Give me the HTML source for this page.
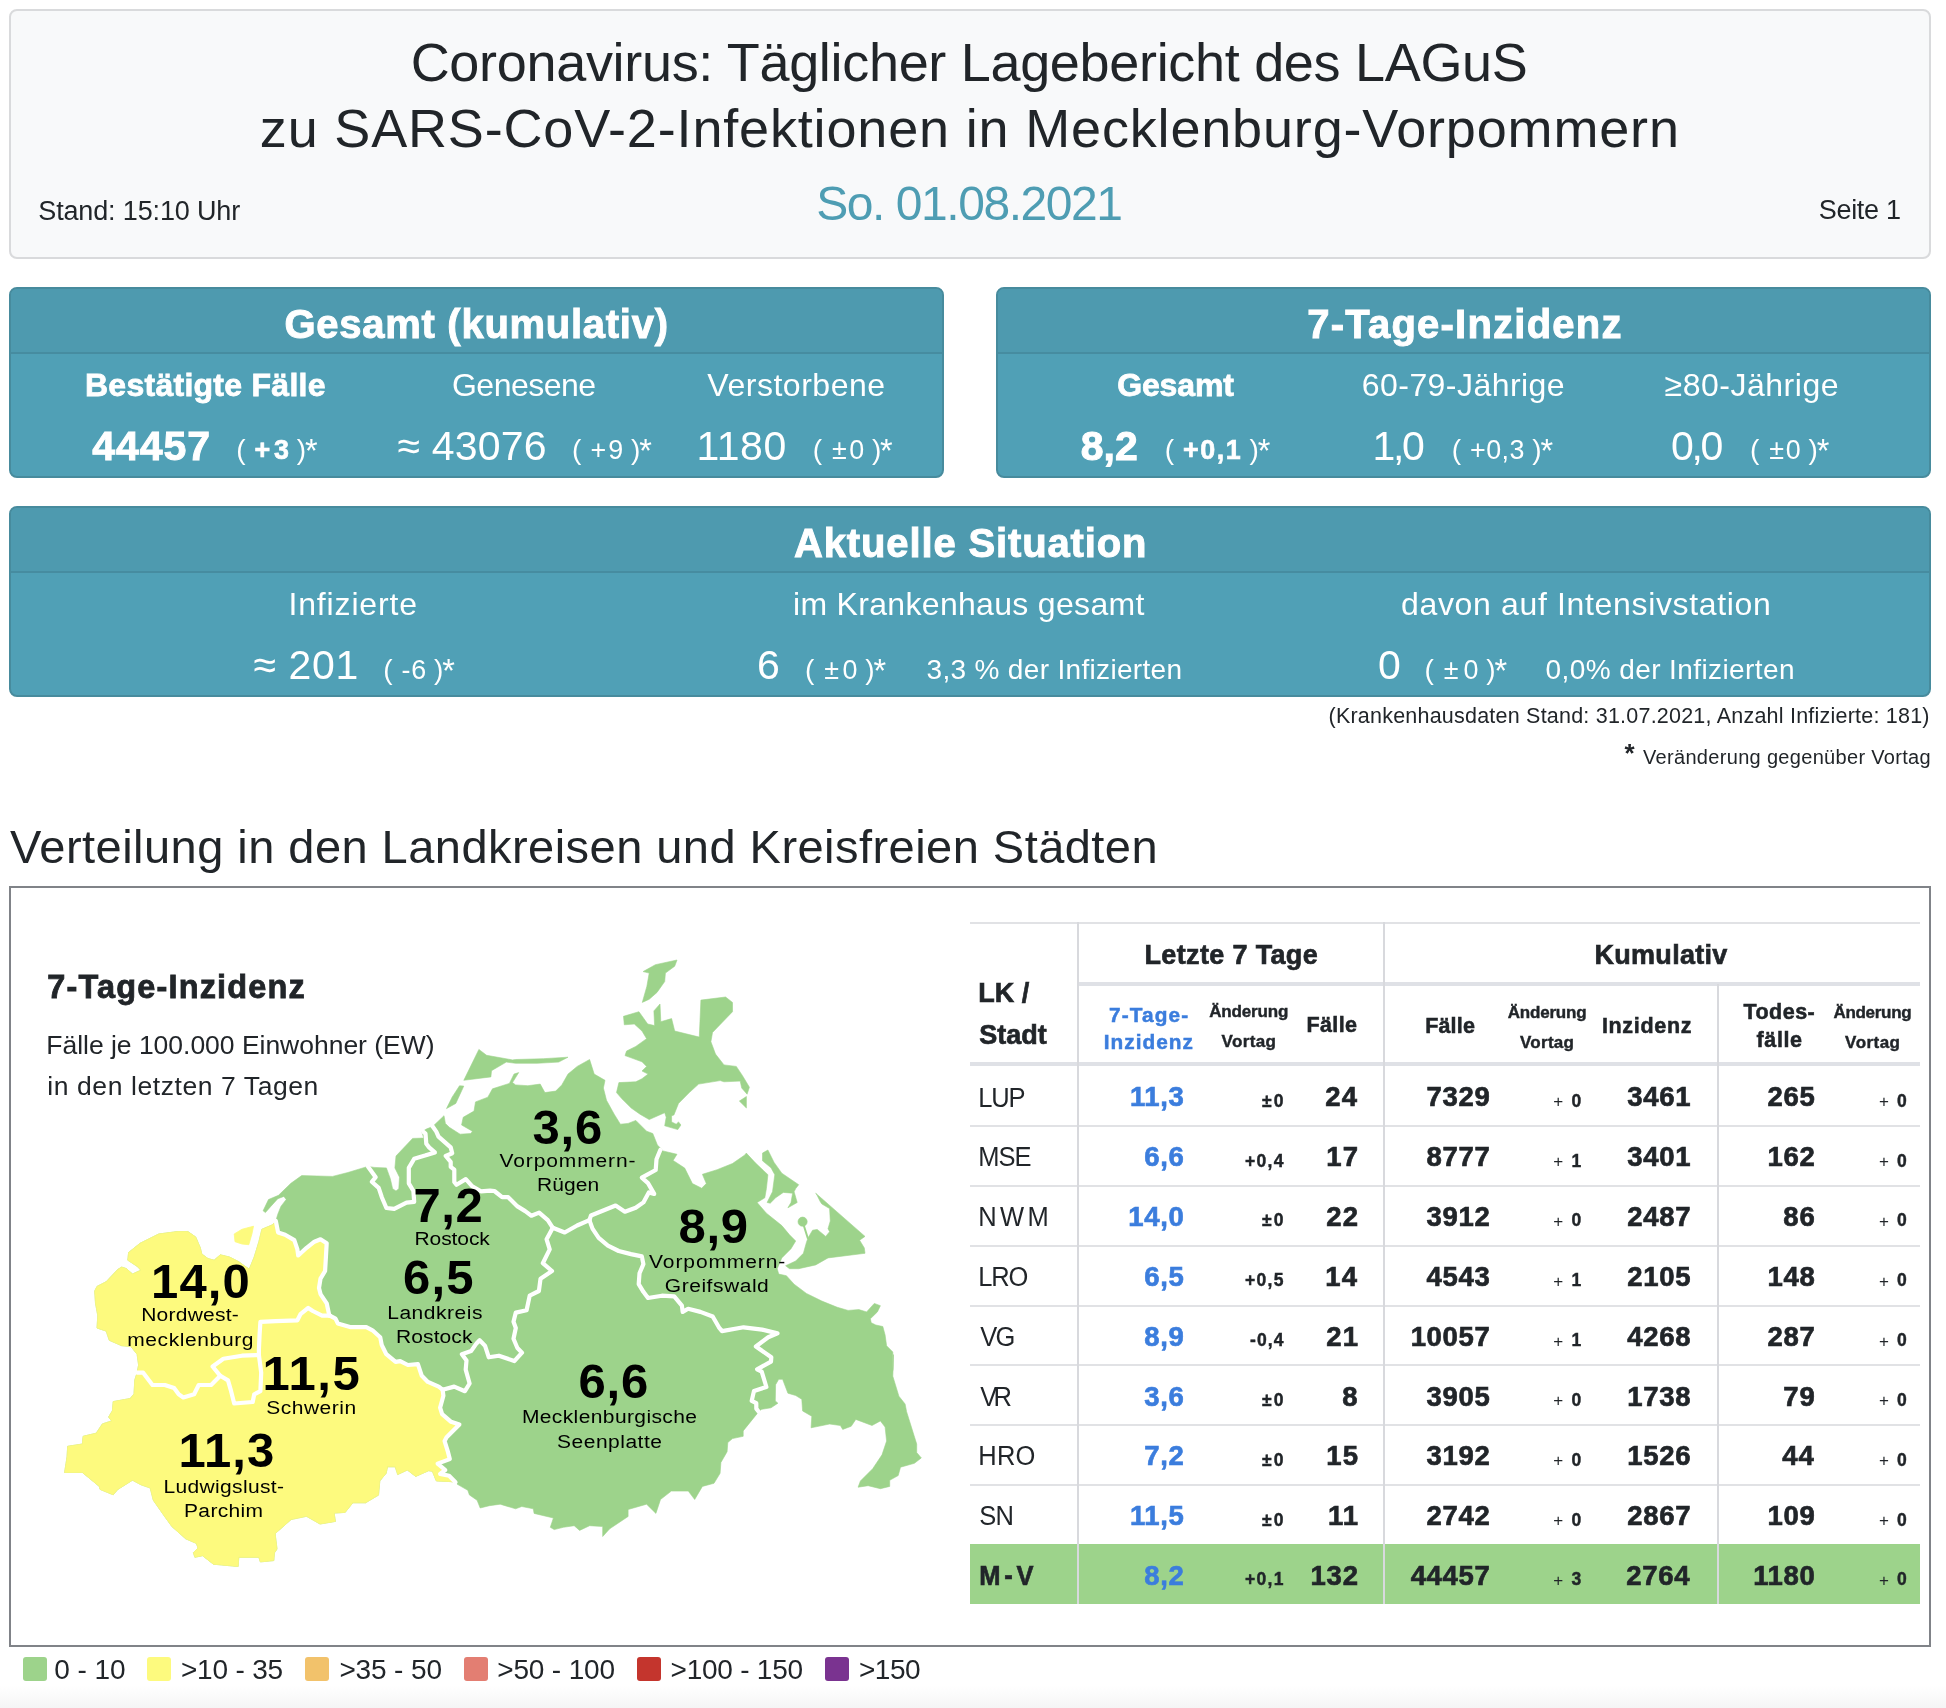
<!DOCTYPE html>
<html lang="de"><head><meta charset="utf-8"><title>Lagebericht</title>
<style>
html,body{margin:0;padding:0;}
body{width:1946px;height:1708px;position:relative;overflow:hidden;background:#fff;font-family:"Liberation Sans",sans-serif;color:#212529;}
.t{position:absolute;white-space:nowrap;line-height:1;}
.b{position:absolute;box-sizing:border-box;}
svg{position:absolute;left:0;top:0;}
#wrap{position:absolute;left:0;top:0;width:1946px;height:1708px;will-change:transform;}
</style></head><body><div id="wrap">
<div class="b" style="left:0px;top:1686px;width:1946px;height:22px;background:linear-gradient(to bottom,#ffffff,#f5f5f5);"></div>
<div class="b" style="left:9px;top:9px;width:1922px;height:250px;background:#f8f9fa;border:2px solid #d9dadc;border-radius:8px;"></div>
<span class="t" style="left:410.70px;top:35.49px;font-size:54px;letter-spacing:-0.314px;">Coronavirus: Täglicher Lagebericht des LAGuS</span>
<span class="t" style="left:259.80px;top:101.49px;font-size:54px;letter-spacing:0.830px;">zu SARS-CoV-2-Infektionen in Mecklenburg-Vorpommern</span>
<span class="t" style="left:816.30px;top:179.67px;font-size:48px;color:#4e9db3;letter-spacing:-1.463px;">So. 01.08.2021</span>
<span class="t" style="left:38.30px;top:197.54px;font-size:27px;letter-spacing:-0.150px;">Stand: 15:10 Uhr</span>
<span class="t" style="left:1818.80px;top:197.34px;font-size:27px;letter-spacing:-0.324px;">Seite 1</span>
<div class="b" style="left:9px;top:287px;width:935px;height:191px;background:#50a0b6;border:2px solid #478b9d;border-radius:8px;"></div>
<div class="b" style="left:11px;top:289px;width:931px;height:65px;background:#4e9aaf;border-bottom:2px solid #468ca0;border-radius:6px 6px 0 0;"></div>
<div class="b" style="left:996px;top:287px;width:935px;height:191px;background:#50a0b6;border:2px solid #478b9d;border-radius:8px;"></div>
<div class="b" style="left:998px;top:289px;width:931px;height:65px;background:#4e9aaf;border-bottom:2px solid #468ca0;border-radius:6px 6px 0 0;"></div>
<div class="b" style="left:9px;top:506px;width:1922px;height:191px;background:#50a0b6;border:2px solid #478b9d;border-radius:8px;"></div>
<div class="b" style="left:11px;top:508px;width:1918px;height:65px;background:#4e9aaf;border-bottom:2px solid #468ca0;border-radius:6px 6px 0 0;"></div>
<span class="t" style="left:284.40px;top:303.84px;font-size:40px;font-weight:700;-webkit-text-stroke:0.96px;color:#ffffff;letter-spacing:0.730px;">Gesamt (kumulativ)</span>
<span class="t" style="left:85.00px;top:369.11px;font-size:32px;font-weight:700;-webkit-text-stroke:0.77px;color:#ffffff;letter-spacing:0.265px;">Bestätigte Fälle</span>
<span class="t" style="left:452.00px;top:369.11px;font-size:32px;color:#ffffff;letter-spacing:-0.525px;">Genesene</span>
<span class="t" style="left:707.30px;top:369.11px;font-size:32px;color:#ffffff;letter-spacing:0.523px;">Verstorbene</span>
<span class="t" style="left:92.20px;top:425.69px;font-size:41px;font-weight:700;-webkit-text-stroke:0.98px;color:#ffffff;letter-spacing:0.973px;">44457</span>
<span class="t" style="left:397.50px;top:425.69px;font-size:41px;color:#ffffff;letter-spacing:0.200px;">≈ 43076</span>
<span class="t" style="left:696.50px;top:425.69px;font-size:41px;color:#ffffff;letter-spacing:0.512px;">1180</span>
<span class="t" style="left:236.30px;top:436.30px;font-size:28px;color:#ffffff;">(</span>
<span class="t" style="left:304.90px;top:435.41px;font-size:32.48px;color:#ffffff;">*</span>
<span class="t" style="left:296.80px;top:436.30px;font-size:28px;color:#ffffff;">)</span>
<span class="t" style="left:254.60px;top:437.25px;font-size:26.88px;font-weight:700;-webkit-text-stroke:0.65px;color:#ffffff;letter-spacing:3.705px;">+3</span>
<span class="t" style="left:572.10px;top:436.30px;font-size:28px;color:#ffffff;">(</span>
<span class="t" style="left:639.20px;top:435.41px;font-size:32.48px;color:#ffffff;">*</span>
<span class="t" style="left:631.10px;top:436.30px;font-size:28px;color:#ffffff;">)</span>
<span class="t" style="left:590.40px;top:437.25px;font-size:26.88px;color:#ffffff;letter-spacing:2.205px;">+9</span>
<span class="t" style="left:812.70px;top:436.30px;font-size:28px;color:#ffffff;">(</span>
<span class="t" style="left:880.10px;top:435.41px;font-size:32.48px;color:#ffffff;">*</span>
<span class="t" style="left:872.00px;top:436.30px;font-size:28px;color:#ffffff;">)</span>
<span class="t" style="left:832.00px;top:437.25px;font-size:26.88px;color:#ffffff;letter-spacing:2.450px;">±0</span>
<span class="t" style="left:1307.30px;top:303.84px;font-size:40px;font-weight:700;-webkit-text-stroke:0.96px;color:#ffffff;letter-spacing:1.218px;">7-Tage-Inzidenz</span>
<span class="t" style="left:1117.20px;top:369.11px;font-size:32px;font-weight:700;-webkit-text-stroke:0.77px;color:#ffffff;letter-spacing:-0.127px;">Gesamt</span>
<span class="t" style="left:1361.80px;top:369.11px;font-size:32px;color:#ffffff;letter-spacing:0.445px;">60-79-Jährige</span>
<span class="t" style="left:1664.60px;top:369.11px;font-size:32px;color:#ffffff;letter-spacing:0.513px;">≥80-Jährige</span>
<span class="t" style="left:1080.70px;top:425.69px;font-size:41px;font-weight:700;-webkit-text-stroke:0.98px;color:#ffffff;letter-spacing:0.053px;">8,2</span>
<span class="t" style="left:1372.60px;top:425.69px;font-size:41px;color:#ffffff;letter-spacing:-2.397px;">1,0</span>
<span class="t" style="left:1671.00px;top:425.69px;font-size:41px;color:#ffffff;letter-spacing:-2.297px;">0,0</span>
<span class="t" style="left:1164.70px;top:436.30px;font-size:28px;color:#ffffff;">(</span>
<span class="t" style="left:1257.70px;top:435.41px;font-size:32.48px;color:#ffffff;">*</span>
<span class="t" style="left:1249.60px;top:436.30px;font-size:28px;color:#ffffff;">)</span>
<span class="t" style="left:1183.00px;top:437.25px;font-size:26.88px;font-weight:700;-webkit-text-stroke:0.65px;color:#ffffff;letter-spacing:1.564px;">+0,1</span>
<span class="t" style="left:1451.70px;top:436.30px;font-size:28px;color:#ffffff;">(</span>
<span class="t" style="left:1540.40px;top:435.41px;font-size:32.48px;color:#ffffff;">*</span>
<span class="t" style="left:1532.30px;top:436.30px;font-size:28px;color:#ffffff;">)</span>
<span class="t" style="left:1470.00px;top:437.25px;font-size:26.88px;color:#ffffff;letter-spacing:0.464px;">+0,3</span>
<span class="t" style="left:1749.90px;top:436.30px;font-size:28px;color:#ffffff;">(</span>
<span class="t" style="left:1816.70px;top:435.41px;font-size:32.48px;color:#ffffff;">*</span>
<span class="t" style="left:1808.60px;top:436.30px;font-size:28px;color:#ffffff;">)</span>
<span class="t" style="left:1769.20px;top:437.25px;font-size:26.88px;color:#ffffff;letter-spacing:1.850px;">±0</span>
<span class="t" style="left:794.00px;top:522.84px;font-size:40px;font-weight:700;-webkit-text-stroke:0.96px;color:#ffffff;letter-spacing:0.860px;">Aktuelle Situation</span>
<span class="t" style="left:288.40px;top:588.21px;font-size:32px;color:#ffffff;letter-spacing:0.862px;">Infizierte</span>
<span class="t" style="left:793.00px;top:588.21px;font-size:32px;color:#ffffff;letter-spacing:0.316px;">im Krankenhaus gesamt</span>
<span class="t" style="left:1401.00px;top:588.21px;font-size:32px;color:#ffffff;letter-spacing:0.658px;">davon auf Intensivstation</span>
<span class="t" style="left:253.40px;top:645.19px;font-size:41px;color:#ffffff;letter-spacing:0.626px;">≈ 201</span>
<span class="t" style="left:383.20px;top:655.90px;font-size:28px;color:#ffffff;">(</span>
<span class="t" style="left:442.20px;top:655.01px;font-size:32.48px;color:#ffffff;">*</span>
<span class="t" style="left:434.10px;top:655.90px;font-size:28px;color:#ffffff;">)</span>
<span class="t" style="left:401.50px;top:656.85px;font-size:26.88px;color:#ffffff;letter-spacing:0.850px;">-6</span>
<span class="t" style="left:757.00px;top:645.19px;font-size:41px;color:#ffffff;">6</span>
<span class="t" style="left:805.00px;top:655.90px;font-size:28px;color:#ffffff;">(</span>
<span class="t" style="left:873.40px;top:655.01px;font-size:32.48px;color:#ffffff;">*</span>
<span class="t" style="left:865.30px;top:655.90px;font-size:28px;color:#ffffff;">)</span>
<span class="t" style="left:824.30px;top:656.85px;font-size:26.88px;color:#ffffff;letter-spacing:3.450px;">±0</span>
<span class="t" style="left:926.50px;top:655.90px;font-size:28px;color:#ffffff;letter-spacing:0.328px;">3,3 % der Infizierten</span>
<span class="t" style="left:1378.00px;top:645.19px;font-size:41px;color:#ffffff;">0</span>
<span class="t" style="left:1424.50px;top:655.90px;font-size:28px;color:#ffffff;">(</span>
<span class="t" style="left:1494.40px;top:655.01px;font-size:32.48px;color:#ffffff;">*</span>
<span class="t" style="left:1486.30px;top:655.90px;font-size:28px;color:#ffffff;">)</span>
<span class="t" style="left:1443.80px;top:656.85px;font-size:26.88px;color:#ffffff;letter-spacing:4.950px;">±0</span>
<span class="t" style="left:1545.50px;top:655.90px;font-size:28px;color:#ffffff;letter-spacing:0.412px;">0,0% der Infizierten</span>
<span class="t" style="left:1328.50px;top:705.80px;font-size:21.5px;letter-spacing:0.219px;">(Krankenhausdaten Stand: 31.07.2021, Anzahl Infizierte: 181)</span>
<span class="t" style="left:1624.60px;top:740.49px;font-size:26px;font-weight:700;">*</span>
<span class="t" style="left:1643.00px;top:746.57px;font-size:20px;letter-spacing:0.315px;">Veränderung gegenüber Vortag</span>
<span class="t" style="left:10.10px;top:823.31px;font-size:47px;letter-spacing:0.461px;">Verteilung in den Landkreisen und Kreisfreien Städten</span>
<div class="b" style="left:9px;top:886px;width:1922px;height:761px;background:#fff;border:2px solid #808388;"></div>
<span class="t" style="left:47.30px;top:971.49px;font-size:32.5px;font-weight:700;-webkit-text-stroke:0.78px;letter-spacing:1.150px;">7-Tage-Inzidenz</span>
<span class="t" style="left:46.30px;top:1031.77px;font-size:26.5px;letter-spacing:-0.021px;">Fälle je 100.000 Einwohner (EW)</span>
<span class="t" style="left:47.30px;top:1073.37px;font-size:26.5px;letter-spacing:0.582px;">in den letzten 7 Tagen</span>
<svg width="1946" height="1708" viewBox="0 0 1946 1708">
<g fill="#9dd38b" stroke="#9dd38b" stroke-width="0.6" stroke-linejoin="round">
<path d="M137.1 1372.7 L138.6 1365.0 L137.1 1354.2 L130.9 1346.5 L121.7 1345.7 L109.3 1340.3 L106.2 1331.1 L97.0 1328.0 L97.8 1315.7 L95.5 1303.3 L94.7 1291.0 L97.0 1286.4 L106.2 1281.7 L117.8 1269.4 L121.7 1267.1 L126.3 1268.6 L132.5 1274.0 L140.9 1270.2 L137.1 1266.3 L127.8 1260.2 L128.6 1252.5 L140.2 1243.2 L158.7 1234.0 L177.2 1231.6 L187.9 1231.6 L195.7 1237.0 L200.3 1247.8 L201.8 1254.0 L208.0 1258.6 L214.2 1260.2 L220.3 1254.8 L229.6 1257.1 L238.8 1261.7 L245.0 1266.3 L249.3 1269.1 L254.2 1257.1 L258.9 1241.7 L261.9 1229.3 L272.7 1224.7 L275.8 1220.9 L277.8 1214.2 L280.9 1206.4 L286.2 1199.5 L283.9 1196.4 L277.8 1198.7 L270.8 1206.4 L265.4 1212.6 L263.1 1210.8 L268.5 1199.5 L278.5 1195.3 L290.9 1183.3 L301.7 1175.6 L332.5 1176.4 L347.9 1172.5 L367.9 1166.4 L374.1 1167.4 L386.4 1167.9 L390.3 1178.7 L392.6 1188.7 L396.0 1191.0 L398.8 1188.7 L399.5 1177.2 L394.9 1167.9 L396.0 1156.0 L412.6 1138.4 L423.7 1138.1 L421.9 1131.9 L426.3 1129.1 L432.7 1126.5 L444.0 1115.7 L445.4 1123.4 L449.3 1127.3 L460.1 1134.2 L470.9 1133.5 L472.4 1131.2 L461.6 1125.0 L463.2 1117.3 L474.0 1111.1 L475.5 1101.9 L487.8 1097.2 L492.5 1088.8 L509.4 1083.4 L514.0 1074.1 L518.7 1072.6 L512.5 1082.6 L515.6 1084.9 L527.9 1085.7 L540.2 1084.1 L544.9 1092.6 L555.7 1091.1 L561.8 1084.9 L568.0 1074.1 L577.2 1066.4 L589.6 1059.5 L594.2 1074.1 L605.0 1080.3 L603.4 1088.0 L606.5 1100.3 L614.2 1114.2 L620.4 1124.2 L628.1 1123.4 L635.8 1120.4 L646.6 1131.2 L652.8 1133.5 L657.4 1145.0 L662.0 1149.7 L660.8 1150.4 L677.0 1154.3 L673.1 1160.4 L684.7 1168.1 L692.4 1183.6 L701.7 1188.2 L706.3 1183.6 L702.4 1174.3 L717.1 1169.7 L732.5 1163.5 L744.8 1155.0 L746.3 1153.1 L755.6 1163.1 L767.9 1174.7 L766.4 1188.6 L764.8 1197.8 L757.1 1202.5 L766.4 1213.2 L781.8 1225.6 L789.5 1234.8 L795.7 1241.0 L791.0 1248.7 L781.8 1257.9 L777.2 1268.7 L778.7 1274.1 L786.4 1275.7 L794.1 1284.2 L806.4 1293.4 L821.9 1301.1 L837.3 1307.3 L848.1 1310.4 L858.9 1309.6 L866.6 1311.9 L874.3 1303.4 L880.4 1305.7 L877.4 1311.9 L870.4 1318.8 L871.2 1322.7 L875.8 1325.0 L882.8 1326.5 L885.1 1335.0 L886.6 1345.8 L892.8 1352.0 L892.8 1370.5 L893.5 1354.6 L892.8 1376.2 L898.9 1396.2 L905.1 1404.0 L906.6 1411.7 L916.7 1444.0 L916.7 1452.5 L921.3 1457.9 L914.4 1463.3 L900.5 1467.2 L898.2 1475.6 L889.7 1480.3 L889.7 1486.4 L880.4 1488.7 L868.1 1485.7 L858.1 1487.2 L860.4 1481.0 L872.7 1468.7 L882.0 1454.8 L886.6 1441.0 L885.1 1427.1 L880.4 1420.9 L872.0 1425.5 L855.8 1419.4 L851.2 1426.3 L842.7 1429.4 L840.4 1425.5 L829.6 1424.0 L811.1 1427.8 L811.8 1416.3 L802.6 1410.9 L801.8 1399.3 L795.7 1395.5 L787.9 1393.2 L782.6 1379.3 L778.7 1379.3 L775.6 1384.7 L775.3 1400.9 L777.9 1403.2 L771.0 1407.8 L761.7 1409.3 L758.7 1411.7 L743.2 1430.9 L743.2 1436.3 L732.5 1438.6 L727.8 1442.5 L727.1 1451.7 L720.9 1462.5 L720.1 1473.3 L714.0 1483.3 L702.4 1486.4 L694.7 1499.5 L688.3 1491.1 L671.3 1491.1 L660.5 1499.5 L655.9 1513.4 L646.6 1504.2 L628.1 1509.5 L628.1 1516.5 L609.7 1528.8 L602.7 1536.5 L602.7 1526.5 L589.6 1525.7 L579.6 1530.4 L574.2 1525.7 L563.4 1527.3 L554.2 1529.6 L550.3 1527.3 L553.4 1518.0 L534.1 1513.4 L533.3 1508.8 L521.8 1506.5 L515.6 1508.8 L500.2 1504.2 L489.4 1505.7 L480.2 1508.0 L477.1 1500.3 L469.4 1494.9 L467.8 1490.3 L457.0 1484.1 L455.5 1482.2 L450.4 1481.6 L436.3 1480.9 L432.4 1471.3 L428.6 1470.7 L415.7 1476.4 L407.4 1470.0 L397.7 1474.5 L395.2 1466.8 L387.5 1466.8 L386.2 1473.2 L379.8 1480.9 L378.5 1495.1 L365.6 1502.8 L352.8 1502.8 L345.1 1512.4 L334.1 1513.1 L335.4 1521.4 L320.0 1524.0 L306.5 1516.3 L291.1 1519.5 L279.5 1529.8 L275.1 1533.6 L277.0 1549.0 L274.4 1552.9 L273.8 1560.6 L260.3 1561.9 L258.9 1557.3 L238.8 1557.3 L238.1 1566.5 L213.4 1564.2 L202.6 1555.7 L194.9 1557.3 L193.4 1552.7 L198.0 1548.0 L196.4 1543.4 L185.7 1538.8 L171.8 1526.4 L164.1 1515.7 L153.3 1500.2 L150.2 1487.9 L141.0 1484.8 L132.5 1480.2 L117.8 1489.4 L113.2 1494.8 L100.1 1489.4 L99.3 1486.4 L82.4 1472.5 L64.6 1472.5 L67.0 1457.1 L67.7 1446.3 L82.4 1444.0 L83.1 1436.3 L96.2 1433.2 L102.4 1423.9 L111.7 1420.9 L108.6 1417.0 L112.4 1410.8 L113.2 1401.6 L130.2 1398.5 L134.0 1393.9 L134.8 1380.0Z"/>
<path d="M643.1 971.6 L655.4 964.7 L677.0 960.0 L674.7 966.2 L665.4 973.1 L664.7 981.6 L657.0 992.4 L649.2 999.3 L642.3 1002.4 L646.9 986.2 L649.2 973.1Z"/>
<path d="M640.0 1013.2 L647.7 1024.0 L654.6 1025.6 L653.9 1010.9 L660.0 1004.0 L660.8 1021.7 L671.6 1018.6 L674.7 1031.0 L699.3 1037.1 L700.9 1000.1 L725.6 997.0 L732.5 1002.4 L732.5 1011.7 L712.5 1032.5 L710.9 1041.7 L715.5 1054.1 L724.0 1064.9 L736.3 1066.4 L742.5 1075.7 L749.4 1087.2 L747.1 1094.2 L741.7 1088.0 L740.2 1081.1 L724.0 1081.8 L720.2 1080.6 L698.6 1084.1 L689.3 1092.6 L678.5 1103.4 L673.9 1115.0 L671.6 1115.7 L671.6 1121.9 L676.2 1124.2 L678.5 1121.9 L680.9 1125.0 L677.8 1129.6 L664.7 1125.8 L666.2 1117.3 L664.7 1112.7 L649.2 1119.6 L640.0 1114.2 L631.2 1108.0 L621.9 1098.8 L616.5 1092.6 L618.9 1082.6 L635.8 1081.8 L642.0 1078.7 L648.1 1074.1 L642.0 1071.0 L646.6 1066.4 L642.0 1061.8 L625.0 1055.6 L626.6 1051.0 L635.8 1046.4 L646.6 1038.7 L642.0 1031.0 L634.3 1024.0 L624.3 1024.8 L623.5 1016.3 L638.9 1011.7Z"/>
<path d="M739.4 1101.1 L746.4 1096.5 L746.4 1108.0Z"/>
<path d="M762.5 1153.1 L767.9 1150.0 L774.1 1162.4 L781.8 1173.2 L798.7 1184.7 L795.7 1188.6 L794.1 1191.7 L797.2 1202.5 L787.9 1207.8 L791.0 1202.5 L792.6 1193.2 L783.3 1192.4 L775.6 1197.8 L770.2 1203.2 L767.1 1202.5 L772.5 1191.7 L774.8 1174.7 L771.0 1167.8 L762.5 1160.8Z"/>
<path d="M815.7 1193.2 L865.0 1236.4 L859.6 1240.2 L864.3 1247.9 L865.0 1253.3 L828.0 1257.9 L815.7 1264.9 L798.7 1268.7 L789.5 1268.7 L785.6 1265.7 L795.7 1261.0 L803.4 1253.3 L806.4 1242.5 L808.0 1237.9 L812.6 1230.2 L817.2 1229.4 L825.7 1236.4 L829.6 1231.7 L828.0 1228.7 L830.3 1221.0 L829.6 1208.6 L821.9 1204.0 L820.3 1201.7 L817.2 1195.5Z"/>
<path d="M463.8 1080.3 L478.9 1049.4 L486.6 1055.3 L512.5 1059.9 L515.6 1059.5 L543.3 1058.7 L568.0 1057.2 L558.7 1062.1 L537.2 1063.3 L515.6 1063.3 L506.3 1062.1 L491.5 1070.7 L490.9 1076.9Z"/>
<path d="M459.5 1085.8 L463.8 1086.1 L455.8 1103.4 L446.5 1108.6 L452.1 1097.2Z"/>
<circle cx="802.6" cy="1221.7" r="4.6"/><path d="M802.6 1221.7L808.0 1238.7" stroke-width="2" fill="none"/>
</g>
<g fill="#fdfa7e" stroke="#fdfa7e" stroke-width="0.8" stroke-linejoin="round"><path d="M137.1 1372.7 L138.6 1365.0 L137.1 1354.2 L130.9 1346.5 L121.7 1345.7 L109.3 1340.3 L106.2 1331.1 L97.0 1328.0 L97.8 1315.7 L95.5 1303.3 L94.7 1291.0 L97.0 1286.4 L106.2 1281.7 L117.8 1269.4 L121.7 1267.1 L126.3 1268.6 L132.5 1274.0 L140.9 1270.2 L137.1 1266.3 L127.8 1260.2 L128.6 1252.5 L140.2 1243.2 L158.7 1234.0 L177.2 1231.6 L187.9 1231.6 L195.7 1237.0 L200.3 1247.8 L201.8 1254.0 L208.0 1258.6 L214.2 1260.2 L220.3 1254.8 L229.6 1257.1 L238.8 1261.7 L245.0 1266.3 L249.3 1269.1 L254.2 1257.1 L258.9 1241.7 L261.9 1229.3 L272.7 1224.7 L275.8 1220.9 L278.1 1232.4 L285.1 1234.7 L294.3 1240.1 L297.4 1249.4 L298.2 1255.5 L306.6 1247.8 L314.4 1241.7 L320.5 1239.3 L326.7 1243.2 L325.9 1257.1 L325.1 1271.0 L320.5 1278.7 L319.0 1287.9 L320.5 1294.1 L326.7 1303.3 L329.0 1314.1 L329.8 1315.7 L335.5 1318.7 L337.8 1323.4 L350.9 1327.2 L366.3 1327.2 L372.5 1330.3 L380.2 1337.2 L381.7 1344.9 L386.3 1354.2 L395.6 1361.9 L400.2 1361.1 L407.9 1365.0 L417.9 1364.2 L421.8 1375.8 L427.9 1381.9 L438.7 1386.6 L442.6 1389.7 L443.4 1395.8 L440.1 1407.7 L442.1 1414.1 L451.1 1421.8 L459.4 1424.4 L446.6 1437.3 L444.6 1441.1 L447.8 1451.4 L449.8 1459.1 L437.6 1463.6 L445.3 1470.0 L440.1 1473.9 L449.1 1475.8 L455.5 1482.2 L450.4 1481.6 L436.3 1480.9 L432.4 1471.3 L428.6 1470.7 L415.7 1476.4 L407.4 1470.0 L397.7 1474.5 L395.2 1466.8 L387.5 1466.8 L386.2 1473.2 L379.8 1480.9 L378.5 1495.1 L365.6 1502.8 L352.8 1502.8 L345.1 1512.4 L334.1 1513.1 L335.4 1521.4 L320.0 1524.0 L306.5 1516.3 L291.1 1519.5 L279.5 1529.8 L275.1 1533.6 L277.0 1549.0 L274.4 1552.9 L273.8 1560.6 L260.3 1561.9 L258.9 1557.3 L238.8 1557.3 L238.1 1566.5 L213.4 1564.2 L202.6 1555.7 L194.9 1557.3 L193.4 1552.7 L198.0 1548.0 L196.4 1543.4 L185.7 1538.8 L171.8 1526.4 L164.1 1515.7 L153.3 1500.2 L150.2 1487.9 L141.0 1484.8 L132.5 1480.2 L117.8 1489.4 L113.2 1494.8 L100.1 1489.4 L99.3 1486.4 L82.4 1472.5 L64.6 1472.5 L67.0 1457.1 L67.7 1446.3 L82.4 1444.0 L83.1 1436.3 L96.2 1433.2 L102.4 1423.9 L111.7 1420.9 L108.6 1417.0 L112.4 1410.8 L113.2 1401.6 L130.2 1398.5 L134.0 1393.9 L134.8 1380.0Z"/><path d="M234.2 1234.0 L241.9 1229.3 L253.5 1226.2 L251.9 1234.0 L248.8 1244.7 L241.9 1244.0 L235.0 1241.7Z"/></g>
<g fill="none" stroke="#fff" stroke-width="4.2" stroke-linejoin="round" stroke-linecap="round">
<path d="M275.8 1220.9 L278.1 1232.4 L285.1 1234.7 L294.3 1240.1 L297.4 1249.4 L298.2 1255.5 L306.6 1247.8 L314.4 1241.7 L320.5 1239.3 L326.7 1243.2 L325.9 1257.1 L325.1 1271.0 L320.5 1278.7 L319.0 1287.9 L320.5 1294.1 L326.7 1303.3 L329.0 1314.1 L329.8 1315.7"/>
<path d="M329.8 1315.7 L335.5 1318.7 L337.8 1323.4 L350.9 1327.2 L366.3 1327.2 L372.5 1330.3 L380.2 1337.2 L381.7 1344.9 L386.3 1354.2 L395.6 1361.9 L400.2 1361.1 L407.9 1365.0 L417.9 1364.2 L421.8 1375.8 L427.9 1381.9 L438.7 1386.6 L442.6 1389.7"/>
<path d="M442.6 1389.7 L443.4 1395.8 L440.1 1407.7 L442.1 1414.1 L451.1 1421.8 L459.4 1424.4 L446.6 1437.3 L444.6 1441.1 L447.8 1451.4 L449.8 1459.1 L437.6 1463.6 L445.3 1470.0 L440.1 1473.9 L449.1 1475.8 L455.5 1482.2"/>
<path d="M442.6 1389.7 L454.2 1386.6 L464.9 1391.2 L469.6 1383.5 L465.7 1369.6 L466.5 1360.4 L461.9 1354.2 L471.1 1351.1 L476.5 1343.4 L479.6 1340.3 L485.0 1345.7 L488.8 1357.3 L498.9 1355.7 L514.3 1361.1 L522.0 1352.7 L517.4 1348.0 L513.5 1338.8 L515.8 1328.0 L513.5 1321.8 L515.8 1312.6 L526.6 1310.3 L529.7 1295.6 L538.9 1291.0 L540.5 1278.7 L552.0 1271.0 L542.8 1263.2 L549.7 1249.4 L546.6 1239.3 L552.8 1227.8"/>
<path d="M367.9 1166.4 L375.7 1177.2 L371.8 1181.8 L378.7 1187.9 L381.8 1197.2 L386.4 1208.0 L394.2 1208.8 L406.5 1202.6 L414.2 1201.8 L413.4 1191.0 L408.8 1183.3 L408.8 1167.9 L414.2 1158.7 L425.0 1155.6 L434.9 1152.4 L429.1 1147.4 L426.3 1143.8 L425.5 1133.7 L423.4 1131.9"/>
<path d="M432.7 1126.5 L436.3 1131.6 L438.5 1136.6 L450.7 1147.4 L452.2 1153.2 L445.7 1156.0 L450.7 1161.8 L450.7 1166.8 L454.3 1169.7 L454.3 1181.9 L456.5 1184.8 L465.8 1179.1 L472.3 1186.3 L480.9 1191.3 L490.0 1190.6 L494.4 1191.0 L502.1 1197.2 L508.2 1197.2 L517.5 1206.4 L525.2 1211.1 L531.4 1215.7 L539.1 1212.6 L547.8 1220.1 L552.8 1227.8"/>
<path d="M552.8 1227.8 L564.7 1232.5 L577.1 1225.5 L589.4 1220.1"/>
<path d="M589.4 1220.1 L591.0 1215.5 L615.6 1205.5 L624.9 1211.7 L635.7 1207.8 L643.4 1202.4 L648.8 1192.4 L654.2 1193.9 L648.0 1183.1 L641.8 1177.7 L655.7 1170.0 L656.5 1159.2 L660.3 1150.0"/>
<path d="M589.4 1220.1 L592.5 1228.6 L598.7 1237.9 L607.9 1245.6 L618.7 1251.0 L631.0 1254.1 L641.8 1256.4 L643.4 1264.1 L639.5 1273.3 L638.7 1284.1 L643.4 1291.8 L648.0 1298.0 L661.9 1295.7 L674.2 1296.4 L681.9 1305.7 L682.7 1311.9 L688.1 1308.8 L700.4 1311.9 L712.7 1316.5 L718.9 1327.3 L722.0 1331.1 L743.6 1327.3 L762.1 1329.6 L777.5 1333.4 L768.2 1337.3 L755.9 1346.5 L771.3 1357.3 L771.0 1361.6 L757.1 1369.3 L761.7 1371.6 L766.4 1387.0 L754.0 1390.9 L751.7 1400.9 L756.3 1403.2 L756.3 1408.6 L758.7 1411.7"/>
<path d="M329.8 1315.7 L322.1 1315.7 L312.8 1311.0 L308.2 1307.9 L300.5 1314.1 L297.4 1320.3 L275.8 1321.1 L260.4 1321.8 L259.6 1334.2 L258.9 1349.6 L258.9 1355.0"/>
<path d="M220.3 1375.8 L211.1 1385.0 L198.7 1385.0 L194.1 1394.3 L183.3 1397.4 L178.7 1394.3 L174.1 1388.1 L164.8 1385.0 L152.5 1385.0 L147.9 1378.9 L143.2 1372.7 L137.1 1372.7"/>
<path d="M258.9 1355.0 L241.9 1355.7 L223.4 1358.8 L212.6 1366.5 L220.3 1375.8 L228.0 1380.4 L231.1 1391.2 L234.2 1403.5 L252.7 1402.0 L254.2 1394.3 L260.4 1391.2 L261.2 1372.7Z"/>
</g></svg>
<span class="t" style="left:151.10px;top:1256.72px;font-size:49px;font-weight:700;color:#000;letter-spacing:1.061px;">14,0</span>
<span class="t" style="left:141.20px;top:1304.87px;font-size:21px;color:#000;letter-spacing:0.238px;transform:scaleY(0.885);transform-origin:0 0;">Nordwest-</span>
<span class="t" style="left:127.20px;top:1329.67px;font-size:21px;color:#000;letter-spacing:0.605px;transform:scaleY(0.885);transform-origin:0 0;">mecklenburg</span>
<span class="t" style="left:262.60px;top:1348.92px;font-size:49px;font-weight:700;color:#000;letter-spacing:1.462px;">11,5</span>
<span class="t" style="left:266.20px;top:1398.47px;font-size:21px;color:#000;letter-spacing:0.502px;transform:scaleY(0.885);transform-origin:0 0;">Schwerin</span>
<span class="t" style="left:178.40px;top:1426.22px;font-size:49px;font-weight:700;color:#000;letter-spacing:1.062px;">11,3</span>
<span class="t" style="left:163.50px;top:1477.27px;font-size:21px;color:#000;letter-spacing:0.343px;transform:scaleY(0.885);transform-origin:0 0;">Ludwigslust-</span>
<span class="t" style="left:184.00px;top:1501.07px;font-size:21px;color:#000;letter-spacing:0.346px;transform:scaleY(0.885);transform-origin:0 0;">Parchim</span>
<span class="t" style="left:413.50px;top:1181.12px;font-size:49px;font-weight:700;color:#000;letter-spacing:0.617px;">7,2</span>
<span class="t" style="left:414.50px;top:1229.37px;font-size:21px;color:#000;letter-spacing:-0.093px;transform:scaleY(0.885);transform-origin:0 0;">Rostock</span>
<span class="t" style="left:402.90px;top:1253.12px;font-size:49px;font-weight:700;color:#000;letter-spacing:1.267px;">6,5</span>
<span class="t" style="left:387.20px;top:1302.67px;font-size:21px;color:#000;letter-spacing:0.518px;transform:scaleY(0.885);transform-origin:0 0;">Landkreis</span>
<span class="t" style="left:396.10px;top:1327.07px;font-size:21px;color:#000;letter-spacing:0.074px;transform:scaleY(0.885);transform-origin:0 0;">Rostock</span>
<span class="t" style="left:532.50px;top:1102.52px;font-size:49px;font-weight:700;color:#000;letter-spacing:0.867px;">3,6</span>
<span class="t" style="left:499.60px;top:1151.47px;font-size:21px;color:#000;letter-spacing:0.868px;transform:scaleY(0.885);transform-origin:0 0;">Vorpommern-</span>
<span class="t" style="left:536.90px;top:1174.57px;font-size:21px;color:#000;letter-spacing:0.099px;transform:scaleY(0.885);transform-origin:0 0;">Rügen</span>
<span class="t" style="left:678.40px;top:1202.22px;font-size:49px;font-weight:700;color:#000;letter-spacing:0.767px;">8,9</span>
<span class="t" style="left:649.10px;top:1251.67px;font-size:21px;color:#000;letter-spacing:0.898px;transform:scaleY(0.885);transform-origin:0 0;">Vorpommern-</span>
<span class="t" style="left:664.80px;top:1275.57px;font-size:21px;color:#000;letter-spacing:0.531px;transform:scaleY(0.885);transform-origin:0 0;">Greifswald</span>
<span class="t" style="left:578.40px;top:1357.22px;font-size:49px;font-weight:700;color:#000;letter-spacing:0.817px;">6,6</span>
<span class="t" style="left:521.90px;top:1407.37px;font-size:21px;color:#000;letter-spacing:0.389px;transform:scaleY(0.885);transform-origin:0 0;">Mecklenburgische</span>
<span class="t" style="left:557.10px;top:1431.77px;font-size:21px;color:#000;letter-spacing:0.485px;transform:scaleY(0.885);transform-origin:0 0;">Seenplatte</span>
<div class="b" style="left:970px;top:922px;width:950px;height:2px;background:#e1e2e5;"></div>
<div class="b" style="left:1079px;top:982px;width:841px;height:4px;background:#dfe1e6;"></div>
<div class="b" style="left:970px;top:1062px;width:950px;height:4px;background:#dfe1e6;"></div>
<div class="b" style="left:970px;top:1125px;width:950px;height:2px;background:#e1e2e5;"></div>
<div class="b" style="left:970px;top:1185px;width:950px;height:2px;background:#e1e2e5;"></div>
<div class="b" style="left:970px;top:1245px;width:950px;height:2px;background:#e1e2e5;"></div>
<div class="b" style="left:970px;top:1305px;width:950px;height:2px;background:#e1e2e5;"></div>
<div class="b" style="left:970px;top:1364px;width:950px;height:2px;background:#e1e2e5;"></div>
<div class="b" style="left:970px;top:1424px;width:950px;height:2px;background:#e1e2e5;"></div>
<div class="b" style="left:970px;top:1484px;width:950px;height:2px;background:#e1e2e5;"></div>
<div class="b" style="left:970px;top:1544px;width:950px;height:2px;background:#e1e2e5;"></div>
<div class="b" style="left:970px;top:1544px;width:950px;height:60px;background:#9dd38b;"></div>
<div class="b" style="left:1077px;top:922px;width:2px;height:682px;background:#d8d9dd;"></div>
<div class="b" style="left:1383px;top:922px;width:2px;height:682px;background:#d8d9dd;"></div>
<div class="b" style="left:1716.5px;top:984px;width:2px;height:620px;background:#d8d9dd;"></div>
<span class="t" style="left:1144.50px;top:941.64px;font-size:27px;font-weight:700;-webkit-text-stroke:0.65px;letter-spacing:0.348px;">Letzte 7 Tage</span>
<span class="t" style="left:1594.50px;top:941.64px;font-size:27px;font-weight:700;-webkit-text-stroke:0.65px;letter-spacing:0.287px;">Kumulativ</span>
<span class="t" style="left:978.30px;top:980.34px;font-size:27px;font-weight:700;-webkit-text-stroke:0.65px;">LK /</span>
<span class="t" style="left:979.30px;top:1022.04px;font-size:27px;font-weight:700;-webkit-text-stroke:0.65px;">Stadt</span>
<span class="t" style="left:1109.00px;top:1004.59px;font-size:20.8px;font-weight:700;-webkit-text-stroke:0.50px;color:#3b7ddd;letter-spacing:1.119px;">7-Tage-</span>
<span class="t" style="left:1103.70px;top:1031.99px;font-size:20.8px;font-weight:700;-webkit-text-stroke:0.50px;color:#3b7ddd;letter-spacing:1.024px;">Inzidenz</span>
<span class="t" style="left:1209.20px;top:1003.31px;font-size:17px;font-weight:700;-webkit-text-stroke:0.41px;letter-spacing:-0.141px;">Änderung</span>
<span class="t" style="left:1221.60px;top:1033.31px;font-size:17px;font-weight:700;-webkit-text-stroke:0.41px;letter-spacing:0.341px;">Vortag</span>
<span class="t" style="left:1306.60px;top:1015.40px;font-size:21.5px;font-weight:700;-webkit-text-stroke:0.52px;letter-spacing:0.341px;">Fälle</span>
<span class="t" style="left:1425.20px;top:1016.00px;font-size:21.5px;font-weight:700;-webkit-text-stroke:0.52px;letter-spacing:0.166px;">Fälle</span>
<span class="t" style="left:1507.70px;top:1003.61px;font-size:17px;font-weight:700;-webkit-text-stroke:0.41px;letter-spacing:-0.198px;">Änderung</span>
<span class="t" style="left:1520.00px;top:1033.51px;font-size:17px;font-weight:700;-webkit-text-stroke:0.41px;letter-spacing:0.281px;">Vortag</span>
<span class="t" style="left:1601.90px;top:1016.00px;font-size:21.5px;font-weight:700;-webkit-text-stroke:0.52px;letter-spacing:0.678px;">Inzidenz</span>
<span class="t" style="left:1743.50px;top:1001.90px;font-size:21.5px;font-weight:700;-webkit-text-stroke:0.52px;letter-spacing:0.476px;">Todes-</span>
<span class="t" style="left:1756.60px;top:1029.70px;font-size:21.5px;font-weight:700;-webkit-text-stroke:0.52px;letter-spacing:0.584px;">fälle</span>
<span class="t" style="left:1833.40px;top:1003.61px;font-size:17px;font-weight:700;-webkit-text-stroke:0.41px;letter-spacing:-0.283px;">Änderung</span>
<span class="t" style="left:1845.10px;top:1033.51px;font-size:17px;font-weight:700;-webkit-text-stroke:0.41px;letter-spacing:0.461px;">Vortag</span>
<span class="t" style="left:978.30px;top:1083.50px;font-size:25.5px;letter-spacing:-1.249px;transform:scaleY(1.075);transform-origin:0 0;">LUP</span>
<span class="t" style="left:1129.90px;top:1083.42px;font-size:27.5px;font-weight:700;-webkit-text-stroke:0.66px;color:#3b7ddd;letter-spacing:0.630px;">11,3</span>
<span class="t" style="left:1261.96px;top:1092.69px;font-size:17.5px;font-weight:700;-webkit-text-stroke:0.42px;letter-spacing:2.132px;">±0</span>
<span class="t" style="left:1325.30px;top:1083.42px;font-size:27.5px;font-weight:700;-webkit-text-stroke:0.66px;letter-spacing:1.107px;">24</span>
<span class="t" style="left:1426.50px;top:1083.42px;font-size:27.5px;font-weight:700;-webkit-text-stroke:0.66px;letter-spacing:0.706px;">7329</span>
<span class="t" style="left:1553.20px;top:1093.31px;font-size:17px;">+</span>
<span class="t" style="left:1571.40px;top:1092.69px;font-size:17.5px;font-weight:700;-webkit-text-stroke:0.42px;">0</span>
<span class="t" style="left:1627.16px;top:1083.42px;font-size:27.5px;font-weight:700;-webkit-text-stroke:0.66px;letter-spacing:0.718px;">3461</span>
<span class="t" style="left:1767.40px;top:1083.42px;font-size:27.5px;font-weight:700;-webkit-text-stroke:0.66px;letter-spacing:0.806px;">265</span>
<span class="t" style="left:1879.00px;top:1093.31px;font-size:17px;">+</span>
<span class="t" style="left:1896.90px;top:1092.69px;font-size:17.5px;font-weight:700;-webkit-text-stroke:0.42px;">0</span>
<span class="t" style="left:978.30px;top:1143.33px;font-size:25.5px;letter-spacing:-1.025px;transform:scaleY(1.075);transform-origin:0 0;">MSE</span>
<span class="t" style="left:1144.19px;top:1143.25px;font-size:27.5px;font-weight:700;-webkit-text-stroke:0.66px;color:#3b7ddd;letter-spacing:0.688px;">6,6</span>
<span class="t" style="left:1245.10px;top:1152.52px;font-size:17.5px;font-weight:700;-webkit-text-stroke:0.42px;letter-spacing:1.262px;">+0,4</span>
<span class="t" style="left:1326.37px;top:1143.25px;font-size:27.5px;font-weight:700;-webkit-text-stroke:0.66px;letter-spacing:1.036px;">17</span>
<span class="t" style="left:1426.46px;top:1143.25px;font-size:27.5px;font-weight:700;-webkit-text-stroke:0.66px;letter-spacing:0.718px;">8777</span>
<span class="t" style="left:1553.20px;top:1153.14px;font-size:17px;">+</span>
<span class="t" style="left:1571.40px;top:1152.52px;font-size:17.5px;font-weight:700;-webkit-text-stroke:0.42px;">1</span>
<span class="t" style="left:1627.16px;top:1143.25px;font-size:27.5px;font-weight:700;-webkit-text-stroke:0.66px;letter-spacing:0.718px;">3401</span>
<span class="t" style="left:1767.43px;top:1143.25px;font-size:27.5px;font-weight:700;-webkit-text-stroke:0.66px;letter-spacing:0.788px;">162</span>
<span class="t" style="left:1879.00px;top:1153.14px;font-size:17px;">+</span>
<span class="t" style="left:1896.90px;top:1152.52px;font-size:17.5px;font-weight:700;-webkit-text-stroke:0.42px;">0</span>
<span class="t" style="left:978.30px;top:1203.16px;font-size:25.5px;letter-spacing:3.358px;transform:scaleY(1.075);transform-origin:0 0;">NWM</span>
<span class="t" style="left:1128.33px;top:1203.08px;font-size:27.5px;font-weight:700;-webkit-text-stroke:0.66px;color:#3b7ddd;letter-spacing:0.648px;">14,0</span>
<span class="t" style="left:1261.96px;top:1212.35px;font-size:17.5px;font-weight:700;-webkit-text-stroke:0.42px;letter-spacing:2.132px;">±0</span>
<span class="t" style="left:1326.33px;top:1203.08px;font-size:27.5px;font-weight:700;-webkit-text-stroke:0.66px;letter-spacing:1.071px;">22</span>
<span class="t" style="left:1426.46px;top:1203.08px;font-size:27.5px;font-weight:700;-webkit-text-stroke:0.66px;letter-spacing:0.718px;">3912</span>
<span class="t" style="left:1553.20px;top:1212.97px;font-size:17px;">+</span>
<span class="t" style="left:1571.40px;top:1212.35px;font-size:17.5px;font-weight:700;-webkit-text-stroke:0.42px;">0</span>
<span class="t" style="left:1627.16px;top:1203.08px;font-size:27.5px;font-weight:700;-webkit-text-stroke:0.66px;letter-spacing:0.718px;">2487</span>
<span class="t" style="left:1783.23px;top:1203.08px;font-size:27.5px;font-weight:700;-webkit-text-stroke:0.66px;letter-spacing:1.071px;">86</span>
<span class="t" style="left:1879.00px;top:1212.97px;font-size:17px;">+</span>
<span class="t" style="left:1896.90px;top:1212.35px;font-size:17.5px;font-weight:700;-webkit-text-stroke:0.42px;">0</span>
<span class="t" style="left:978.30px;top:1262.99px;font-size:25.5px;letter-spacing:-1.199px;transform:scaleY(1.075);transform-origin:0 0;">LRO</span>
<span class="t" style="left:1144.19px;top:1262.91px;font-size:27.5px;font-weight:700;-webkit-text-stroke:0.66px;color:#3b7ddd;letter-spacing:0.688px;">6,5</span>
<span class="t" style="left:1245.10px;top:1272.18px;font-size:17.5px;font-weight:700;-webkit-text-stroke:0.42px;letter-spacing:1.262px;">+0,5</span>
<span class="t" style="left:1325.33px;top:1262.91px;font-size:27.5px;font-weight:700;-webkit-text-stroke:0.66px;letter-spacing:1.071px;">14</span>
<span class="t" style="left:1426.46px;top:1262.91px;font-size:27.5px;font-weight:700;-webkit-text-stroke:0.66px;letter-spacing:0.718px;">4543</span>
<span class="t" style="left:1553.20px;top:1272.80px;font-size:17px;">+</span>
<span class="t" style="left:1571.40px;top:1272.18px;font-size:17.5px;font-weight:700;-webkit-text-stroke:0.42px;">1</span>
<span class="t" style="left:1627.16px;top:1262.91px;font-size:27.5px;font-weight:700;-webkit-text-stroke:0.66px;letter-spacing:0.718px;">2105</span>
<span class="t" style="left:1767.43px;top:1262.91px;font-size:27.5px;font-weight:700;-webkit-text-stroke:0.66px;letter-spacing:0.788px;">148</span>
<span class="t" style="left:1879.00px;top:1272.80px;font-size:17px;">+</span>
<span class="t" style="left:1896.90px;top:1272.18px;font-size:17.5px;font-weight:700;-webkit-text-stroke:0.42px;">0</span>
<span class="t" style="left:980.30px;top:1322.82px;font-size:25.5px;letter-spacing:-1.808px;transform:scaleY(1.075);transform-origin:0 0;">VG</span>
<span class="t" style="left:1144.15px;top:1322.74px;font-size:27.5px;font-weight:700;-webkit-text-stroke:0.66px;color:#3b7ddd;letter-spacing:0.706px;">8,9</span>
<span class="t" style="left:1249.97px;top:1332.01px;font-size:17.5px;font-weight:700;-webkit-text-stroke:0.42px;letter-spacing:1.103px;">-0,4</span>
<span class="t" style="left:1326.33px;top:1322.74px;font-size:27.5px;font-weight:700;-webkit-text-stroke:0.66px;letter-spacing:1.071px;">21</span>
<span class="t" style="left:1410.67px;top:1322.74px;font-size:27.5px;font-weight:700;-webkit-text-stroke:0.66px;letter-spacing:0.665px;">10057</span>
<span class="t" style="left:1553.20px;top:1332.63px;font-size:17px;">+</span>
<span class="t" style="left:1571.40px;top:1332.01px;font-size:17.5px;font-weight:700;-webkit-text-stroke:0.42px;">1</span>
<span class="t" style="left:1627.16px;top:1322.74px;font-size:27.5px;font-weight:700;-webkit-text-stroke:0.66px;letter-spacing:0.718px;">4268</span>
<span class="t" style="left:1767.40px;top:1322.74px;font-size:27.5px;font-weight:700;-webkit-text-stroke:0.66px;letter-spacing:0.806px;">287</span>
<span class="t" style="left:1879.00px;top:1332.63px;font-size:17px;">+</span>
<span class="t" style="left:1896.90px;top:1332.01px;font-size:17.5px;font-weight:700;-webkit-text-stroke:0.42px;">0</span>
<span class="t" style="left:980.30px;top:1382.65px;font-size:25.5px;letter-spacing:-3.808px;transform:scaleY(1.075);transform-origin:0 0;">VR</span>
<span class="t" style="left:1144.15px;top:1382.57px;font-size:27.5px;font-weight:700;-webkit-text-stroke:0.66px;color:#3b7ddd;letter-spacing:0.706px;">3,6</span>
<span class="t" style="left:1261.96px;top:1391.84px;font-size:17.5px;font-weight:700;-webkit-text-stroke:0.42px;letter-spacing:2.132px;">±0</span>
<span class="t" style="left:1342.17px;top:1382.57px;font-size:27.5px;font-weight:700;-webkit-text-stroke:0.66px;">8</span>
<span class="t" style="left:1426.46px;top:1382.57px;font-size:27.5px;font-weight:700;-webkit-text-stroke:0.66px;letter-spacing:0.718px;">3905</span>
<span class="t" style="left:1553.20px;top:1392.46px;font-size:17px;">+</span>
<span class="t" style="left:1571.40px;top:1391.84px;font-size:17.5px;font-weight:700;-webkit-text-stroke:0.42px;">0</span>
<span class="t" style="left:1627.20px;top:1382.57px;font-size:27.5px;font-weight:700;-webkit-text-stroke:0.66px;letter-spacing:0.706px;">1738</span>
<span class="t" style="left:1783.27px;top:1382.57px;font-size:27.5px;font-weight:700;-webkit-text-stroke:0.66px;letter-spacing:1.036px;">79</span>
<span class="t" style="left:1879.00px;top:1392.46px;font-size:17px;">+</span>
<span class="t" style="left:1896.90px;top:1391.84px;font-size:17.5px;font-weight:700;-webkit-text-stroke:0.42px;">0</span>
<span class="t" style="left:978.30px;top:1442.48px;font-size:25.5px;letter-spacing:0.185px;transform:scaleY(1.075);transform-origin:0 0;">HRO</span>
<span class="t" style="left:1144.19px;top:1442.40px;font-size:27.5px;font-weight:700;-webkit-text-stroke:0.66px;color:#3b7ddd;letter-spacing:0.688px;">7,2</span>
<span class="t" style="left:1261.96px;top:1451.67px;font-size:17.5px;font-weight:700;-webkit-text-stroke:0.42px;letter-spacing:2.132px;">±0</span>
<span class="t" style="left:1326.37px;top:1442.40px;font-size:27.5px;font-weight:700;-webkit-text-stroke:0.66px;letter-spacing:1.036px;">15</span>
<span class="t" style="left:1426.46px;top:1442.40px;font-size:27.5px;font-weight:700;-webkit-text-stroke:0.66px;letter-spacing:0.718px;">3192</span>
<span class="t" style="left:1553.20px;top:1452.29px;font-size:17px;">+</span>
<span class="t" style="left:1571.40px;top:1451.67px;font-size:17.5px;font-weight:700;-webkit-text-stroke:0.42px;">0</span>
<span class="t" style="left:1627.20px;top:1442.40px;font-size:27.5px;font-weight:700;-webkit-text-stroke:0.66px;letter-spacing:0.706px;">1526</span>
<span class="t" style="left:1782.20px;top:1442.40px;font-size:27.5px;font-weight:700;-webkit-text-stroke:0.66px;letter-spacing:1.107px;">44</span>
<span class="t" style="left:1879.00px;top:1452.29px;font-size:17px;">+</span>
<span class="t" style="left:1896.90px;top:1451.67px;font-size:17.5px;font-weight:700;-webkit-text-stroke:0.42px;">0</span>
<span class="t" style="left:979.30px;top:1502.31px;font-size:25.5px;letter-spacing:-0.808px;transform:scaleY(1.075);transform-origin:0 0;">SN</span>
<span class="t" style="left:1129.90px;top:1502.23px;font-size:27.5px;font-weight:700;-webkit-text-stroke:0.66px;color:#3b7ddd;letter-spacing:0.630px;">11,5</span>
<span class="t" style="left:1261.96px;top:1511.50px;font-size:17.5px;font-weight:700;-webkit-text-stroke:0.42px;letter-spacing:2.132px;">±0</span>
<span class="t" style="left:1327.94px;top:1502.23px;font-size:27.5px;font-weight:700;-webkit-text-stroke:0.66px;letter-spacing:0.982px;">11</span>
<span class="t" style="left:1426.46px;top:1502.23px;font-size:27.5px;font-weight:700;-webkit-text-stroke:0.66px;letter-spacing:0.718px;">2742</span>
<span class="t" style="left:1553.20px;top:1512.12px;font-size:17px;">+</span>
<span class="t" style="left:1571.40px;top:1511.50px;font-size:17.5px;font-weight:700;-webkit-text-stroke:0.42px;">0</span>
<span class="t" style="left:1627.16px;top:1502.23px;font-size:27.5px;font-weight:700;-webkit-text-stroke:0.66px;letter-spacing:0.718px;">2867</span>
<span class="t" style="left:1767.43px;top:1502.23px;font-size:27.5px;font-weight:700;-webkit-text-stroke:0.66px;letter-spacing:0.788px;">109</span>
<span class="t" style="left:1879.00px;top:1512.12px;font-size:17px;">+</span>
<span class="t" style="left:1896.90px;top:1511.50px;font-size:17.5px;font-weight:700;-webkit-text-stroke:0.42px;">0</span>
<span class="t" style="left:979.30px;top:1562.14px;font-size:25.5px;font-weight:700;-webkit-text-stroke:0.61px;letter-spacing:3.733px;transform:scaleY(1.075);transform-origin:0 0;">M-V</span>
<span class="t" style="left:1144.15px;top:1562.06px;font-size:27.5px;font-weight:700;-webkit-text-stroke:0.66px;color:#3b7ddd;letter-spacing:0.706px;">8,2</span>
<span class="t" style="left:1245.10px;top:1571.33px;font-size:17.5px;font-weight:700;-webkit-text-stroke:0.42px;letter-spacing:1.262px;">+0,1</span>
<span class="t" style="left:1310.53px;top:1562.06px;font-size:27.5px;font-weight:700;-webkit-text-stroke:0.66px;letter-spacing:0.788px;">132</span>
<span class="t" style="left:1410.63px;top:1562.06px;font-size:27.5px;font-weight:700;-webkit-text-stroke:0.66px;letter-spacing:0.673px;">44457</span>
<span class="t" style="left:1553.20px;top:1571.95px;font-size:17px;">+</span>
<span class="t" style="left:1571.40px;top:1571.33px;font-size:17.5px;font-weight:700;-webkit-text-stroke:0.42px;">3</span>
<span class="t" style="left:1626.13px;top:1562.06px;font-size:27.5px;font-weight:700;-webkit-text-stroke:0.66px;letter-spacing:0.729px;">2764</span>
<span class="t" style="left:1753.17px;top:1562.06px;font-size:27.5px;font-weight:700;-webkit-text-stroke:0.66px;letter-spacing:0.688px;">1180</span>
<span class="t" style="left:1879.00px;top:1571.95px;font-size:17px;">+</span>
<span class="t" style="left:1896.90px;top:1571.33px;font-size:17.5px;font-weight:700;-webkit-text-stroke:0.42px;">0</span>
<div class="b" style="left:23px;top:1657px;width:24px;height:24px;background:#9dd38b;border-radius:3px;"></div>
<span class="t" style="left:54.20px;top:1655.60px;font-size:28px;letter-spacing:-0.025px;">0 - 10</span>
<div class="b" style="left:147px;top:1657px;width:24px;height:24px;background:#fdfa7e;border-radius:3px;"></div>
<span class="t" style="left:180.90px;top:1655.60px;font-size:28px;letter-spacing:-0.179px;">&gt;10 - 35</span>
<div class="b" style="left:305.3px;top:1657px;width:24px;height:24px;background:#f2c26b;border-radius:3px;"></div>
<span class="t" style="left:339.40px;top:1655.60px;font-size:28px;letter-spacing:-0.136px;">&gt;35 - 50</span>
<div class="b" style="left:464px;top:1657px;width:24px;height:24px;background:#e37e72;border-radius:3px;"></div>
<span class="t" style="left:497.20px;top:1655.60px;font-size:28px;letter-spacing:-0.153px;">&gt;50 - 100</span>
<div class="b" style="left:637.4px;top:1657px;width:24px;height:24px;background:#c4352d;border-radius:3px;"></div>
<span class="t" style="left:670.60px;top:1655.60px;font-size:28px;letter-spacing:-0.244px;">&gt;100 - 150</span>
<div class="b" style="left:825.4px;top:1657px;width:24px;height:24px;background:#7a3390;border-radius:3px;"></div>
<span class="t" style="left:858.90px;top:1655.60px;font-size:28px;letter-spacing:-0.465px;">&gt;150</span>
</div></body></html>
